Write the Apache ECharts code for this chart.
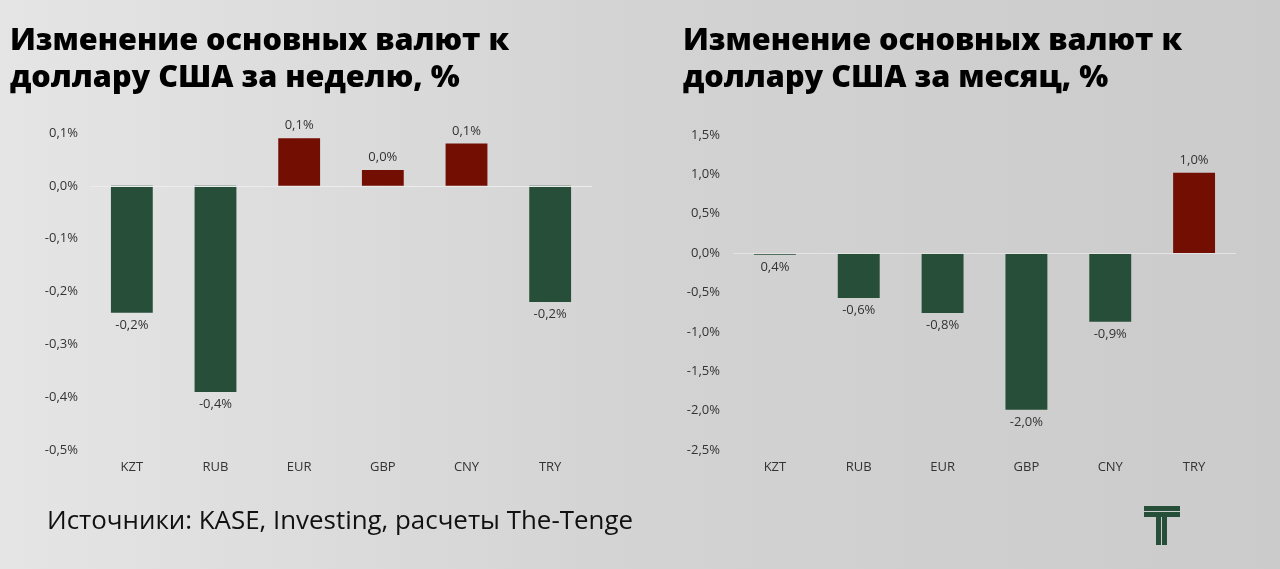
<!DOCTYPE html>
<html>
<head>
<meta charset="utf-8">
<script src="https://cdn.jsdelivr.net/npm/echarts@6/dist/echarts.min.js"></script>
<style>
html,body{margin:0;padding:0;}
#chart{width:1280px;height:569px;}
</style>
</head>
<body>
<div id="chart"></div>
<script>
// ---- data ----
const categories = ['KZT', 'RUB', 'EUR', 'GBP', 'CNY', 'TRY'];
const weekValues = [-0.24, -0.39, 0.09, 0.03, 0.08, -0.22];
const weekLabels = ['-0,2%', '-0,4%', '0,1%', '0,0%', '0,1%', '-0,2%'];
const monthValues = [-0.02, -0.57, -0.76, -1.99, -0.87, 1.02];
const monthLabels = ['0,4%', '-0,6%', '-0,8%', '-2,0%', '-0,9%', '1,0%'];
const weekTitle = 'Изменение основных валют к\nдоллару США за неделю, %';
const monthTitle = 'Изменение основных валют к\nдоллару США за месяц, %';
const sourceText = 'Источники: KASE, Investing, расчеты The-Tenge';

const GREEN = '#264e39';
const RED = '#730e02';
const FONT = 'Open Sans';

function fmt(v) { return v.toFixed(1).replace('.', ',') + '%'; }

function buildData(values, labels) {
  return values.map((v, i) => ({
    value: v,
    itemStyle: { color: v >= 0 ? RED : GREEN },
    label: { position: v >= 0 ? 'top' : 'bottom', formatter: labels[i] }
  }));
}

const axisLabelStyle = { color: '#333', fontSize: 13, fontFamily: FONT };
const titleStyle = { fontFamily: FONT, fontWeight: 800, fontSize: 30.6, lineHeight: 37, color: '#000' };

const chart = echarts.init(document.getElementById('chart'));
chart.setOption({
  backgroundColor: new echarts.graphic.LinearGradient(0, 0, 1, 0, [
    { offset: 0, color: '#e5e5e5' },
    { offset: 0.5, color: '#d3d3d3' },
    { offset: 1, color: '#cbcbcb' }
  ]),
  animation: false,
  title: [
    { text: weekTitle, left: 5, top: 18, textStyle: titleStyle },
    { text: monthTitle, left: 678, top: 18, textStyle: titleStyle }
  ],
  grid: [
    { left: 90, width: 502, top: 133, height: 317 },
    { left: 733, width: 503, top: 135, height: 315 }
  ],
  xAxis: [
    { type: 'category', gridIndex: 0, data: categories, position: 'bottom',
      axisLine: { show: false, onZero: false }, axisTick: { show: false },
      axisLabel: Object.assign({ margin: 11 }, axisLabelStyle) },
    { type: 'category', gridIndex: 1, data: categories, position: 'bottom',
      axisLine: { show: false, onZero: false }, axisTick: { show: false },
      axisLabel: Object.assign({ margin: 11 }, axisLabelStyle) }
  ],
  yAxis: [
    { type: 'value', gridIndex: 0, min: -0.5, max: 0.1, interval: 0.1,
      axisLine: { show: false }, axisTick: { show: false }, splitLine: { show: false },
      axisLabel: Object.assign({ margin: 12, formatter: v => fmt(v) }, axisLabelStyle) },
    { type: 'value', gridIndex: 1, min: -2.5, max: 1.5, interval: 0.5,
      axisLine: { show: false }, axisTick: { show: false }, splitLine: { show: false },
      axisLabel: Object.assign({ margin: 13, formatter: v => fmt(v) }, axisLabelStyle) }
  ],
  series: [
    { type: 'bar', xAxisIndex: 0, yAxisIndex: 0, barWidth: '50%',
      data: buildData(weekValues, weekLabels),
      label: { show: true, color: '#333', fontSize: 13, fontFamily: FONT, distance: 6 },
      markLine: { silent: true, symbol: 'none', label: { show: false },
        lineStyle: { color: '#ececec', width: 1, type: 'solid' }, data: [{ yAxis: 0 }] } },
    { type: 'bar', xAxisIndex: 1, yAxisIndex: 1, barWidth: '50%',
      data: buildData(monthValues, monthLabels),
      label: { show: true, color: '#333', fontSize: 13, fontFamily: FONT, distance: 6 },
      markLine: { silent: true, symbol: 'none', label: { show: false },
        lineStyle: { color: '#e4e4e4', width: 1, type: 'solid' }, data: [{ yAxis: 0 }] } }
  ],
  graphic: [
    { type: 'text', left: 47, top: 509,
      style: { text: sourceText, fontFamily: FONT, fontSize: 25.9, fill: '#111' } },
    { type: 'group', left: 1144, top: 506, children: [
      { type: 'rect', shape: { x: 0, y: 0, width: 36, height: 5 }, style: { fill: GREEN } },
      { type: 'rect', shape: { x: 0, y: 6, width: 36, height: 5 }, style: { fill: GREEN } },
      { type: 'rect', shape: { x: 12, y: 6, width: 5, height: 33 }, style: { fill: GREEN } },
      { type: 'rect', shape: { x: 18, y: 6, width: 5, height: 33 }, style: { fill: GREEN } }
    ] }
  ]
});
</script>
</body>
</html>
